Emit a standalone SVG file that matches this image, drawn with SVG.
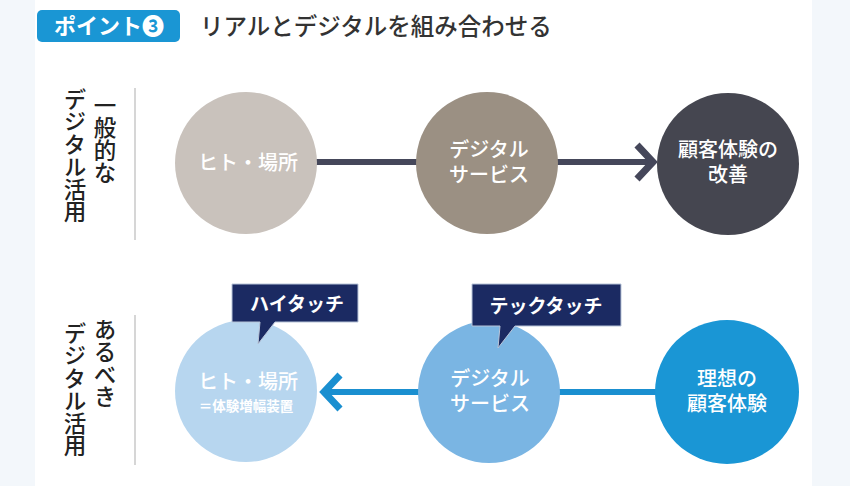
<svg xmlns="http://www.w3.org/2000/svg" width="850" height="486" viewBox="0 0 850 486">
<defs>
<style>
.t{font-family:"Noto Sans CJK JP","Noto Sans",sans-serif;}
.ct{font-family:"Noto Sans CJK JP",sans-serif;fill:#ffffff;font-size:20px;font-weight:500;text-anchor:middle;}
.st{font-family:"Noto Sans CJK JP",sans-serif;fill:#ffffff;font-size:13.5px;font-weight:700;text-anchor:middle;}
.vt{font-family:"Noto Sans CJK JP",sans-serif;fill:#222222;font-size:22.5px;font-weight:500;writing-mode:vertical-rl;text-orientation:upright;}
.sep{stroke:#c8c8c8;stroke-width:1.5;}
.tag{fill:#1b2a62;stroke:#b8c4d8;stroke-width:1;}
.tagt{font-family:"Noto Sans CJK JP",sans-serif;fill:#ffffff;font-size:19px;font-weight:700;text-anchor:middle;}
</style>
</defs>
<rect x="0" y="0" width="850" height="486" fill="#f3f7fb"/>
<rect x="35" y="0" width="777" height="486" fill="#ffffff"/>
<g id="title">
<rect x="37" y="10" width="143" height="32" rx="5" fill="#1a96d4"/>
<text x="109" y="34" class="t" font-size="22" font-weight="700" fill="#ffffff" text-anchor="middle">ポイント❸</text>
<text x="200" y="35" class="t" font-size="23.5" font-weight="500" fill="#333333">リアルとデジタルを組み合わせる</text>
</g>
<g id="label-top">
<text x="105" y="94" class="vt">一般的な</text>
<text x="75" y="88" class="vt">デジタル活用</text>
<line x1="135" y1="88" x2="135" y2="240" class="sep"/>
</g>
<g id="label-bottom">
<text x="105" y="318" class="vt">あるべき</text>
<text x="75" y="322" class="vt">デジタル活用</text>
<line x1="135" y1="315" x2="135" y2="465" class="sep"/>
</g>
<g id="connectors">
<line x1="306" y1="162" x2="652" y2="162" stroke="#45475a" stroke-width="6"/>
<polyline points="637,145 653,162 637,179" fill="none" stroke="#45475a" stroke-width="7" stroke-linejoin="miter"/>
<line x1="656" y1="392" x2="326" y2="392" stroke="#1a8fd0" stroke-width="6"/>
<polyline points="340,375 324,392 340,409" fill="none" stroke="#1a8fd0" stroke-width="7" stroke-linejoin="miter"/>
</g>
<g id="node-hito">
<circle cx="246" cy="163" r="71" fill="#c9c2bc"/>
<text x="248" y="170" class="ct">ヒト・場所</text>
</g>
<g id="node-digital">
<circle cx="487" cy="163" r="71" fill="#9b9083"/>
<text x="489" y="157" class="ct">デジタル</text>
<text x="489" y="182" class="ct">サービス</text>
</g>
<g id="node-kaizen">
<circle cx="728" cy="164" r="71" fill="#454650"/>
<text x="728" y="157" class="ct">顧客体験の</text>
<text x="728" y="182" class="ct">改善</text>
</g>
<g id="node-hito2">
<circle cx="246" cy="391" r="71" fill="#b7d6ef"/>
<text x="248" y="389" class="ct">ヒト・場所</text>
<text x="246" y="411" class="st">＝体験増幅装置</text>
</g>
<g id="node-digital2">
<circle cx="489" cy="392" r="71" fill="#7ab5e3"/>
<text x="490" y="386" class="ct">デジタル</text>
<text x="490" y="411" class="ct">サービス</text>
</g>
<g id="node-ideal">
<circle cx="727" cy="392" r="72" fill="#1a96d5"/>
<text x="727" y="386" class="ct">理想の</text>
<text x="727" y="411" class="ct">顧客体験</text>
</g>
<g id="tag-hightouch">
<path d="M232,284 H358 V322 H275 L258,344 L260,322 H232 Z" class="tag"/>
<text x="297" y="311" class="tagt">ハイタッチ</text>
</g>
<g id="tag-techtouch">
<path d="M472,284 H621 V326 H515 L498,348 L500,326 H472 Z" class="tag"/>
<text x="546" y="313" class="tagt">テックタッチ</text>
</g>
</svg>
